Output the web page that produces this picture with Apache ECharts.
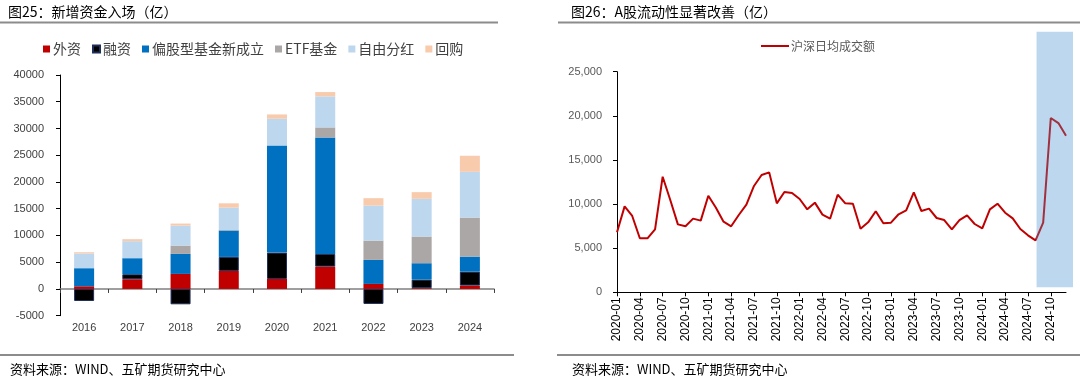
<!DOCTYPE html>
<html>
<head>
<meta charset="utf-8">
<script src="https://cdn.jsdelivr.net/npm/echarts@6/dist/echarts.min.js"></script>
<style>
html,body{margin:0;padding:0;background:#fff;}
#c{width:1080px;height:381px;}
</style>
</head>
<body>
<div id="c"></div>
<script>
// ---- Left chart data (亿) ----
const years = ['2016','2017','2018','2019','2020','2021','2022','2023','2024'];
const foreignCap = [500, 1810, 2810, 3370, 1870, 4180, 940, 150, 640];
const marginFin = [-2250, 940, -2870, 2620, 4930, 2370, -2800, 1600, 2600];
const newEquityFunds = [3380, 3000, 3740, 4930, 20030, 21780, 4490, 3060, 2810];
const etfFunds = [0, 0, 1560, 100, 0, 1870, 3620, 4990, 7300];
const dividends = [2750, 3180, 3740, 4180, 4990, 5800, 6550, 7050, 8550];
const buybacks = [240, 375, 375, 810, 810, 810, 1370, 1250, 3000];
const leftYTicks = [-5000, 40000, 5000]; // min, max, interval

// ---- Right chart data (亿) ----
const months = [
 '2020-01','2020-02','2020-03','2020-04','2020-05','2020-06','2020-07','2020-08','2020-09','2020-10','2020-11','2020-12',
 '2021-01','2021-02','2021-03','2021-04','2021-05','2021-06','2021-07','2021-08','2021-09','2021-10','2021-11','2021-12',
 '2022-01','2022-02','2022-03','2022-04','2022-05','2022-06','2022-07','2022-08','2022-09','2022-10','2022-11','2022-12',
 '2023-01','2023-02','2023-03','2023-04','2023-05','2023-06','2023-07','2023-08','2023-09','2023-10','2023-11','2023-12',
 '2024-01','2024-02','2024-03','2024-04','2024-05','2024-06','2024-07','2024-08','2024-09','2024-10','2024-11','2024-12'];
const turnover = [
 6800, 9740, 8650, 6120, 6120, 7140, 13100, 10460, 7700, 7480, 8350, 8120,
 10950, 9590, 8000, 7480, 8760, 9930, 12050, 13290, 13590, 10080, 11370, 11250,
 10570, 9400, 10160, 8800, 8340, 11060, 10080, 10040, 7210, 7930, 9180, 7820,
 7890, 8840, 9290, 11330, 9210, 9480, 8420, 8190, 7140, 8190, 8720, 7740,
 7250, 9400, 10040, 9020, 8380, 7170, 6460, 5890, 7890, 19750, 19180, 17750];
const rightYTicks = [0, 25000, 5000];
const highlightStart = '2024-08';
const highlightEnd = '2024-12';

const FONT = '"Liberation Sans", "Noto Sans CJK SC", sans-serif';
const CJK = '"Noto Sans CJK SC", "Liberation Sans", sans-serif';

const chart = echarts.init(document.getElementById('c'), null, {renderer: 'canvas'});

function barSeries(name, data, color, extra) {
  return Object.assign({
    name: name, type: 'bar', stack: 'total', data: data,
    xAxisIndex: 0, yAxisIndex: 0, barWidth: 20,
    itemStyle: {color: color}
  }, extra || {});
}

const option = {
  animation: false,
  backgroundColor: '#fff',
  textStyle: {fontFamily: FONT},
  title: [
    {text: '图25：新增资金入场（亿）', left: 3, top: 0,
     textStyle: {fontFamily: CJK, fontSize: 14, fontWeight: 'normal', color: '#000'}},
    {text: '图26：A股流动性显著改善（亿）', left: 566, top: 0,
     textStyle: {fontFamily: CJK, fontSize: 14, fontWeight: 'normal', color: '#000'}},
    {text: '资料来源：WIND、五矿期货研究中心', left: 5, top: 358,
     textStyle: {fontFamily: CJK, fontSize: 13, fontWeight: 'normal', color: '#000'}},
    {text: '资料来源：WIND、五矿期货研究中心', left: 567, top: 358,
     textStyle: {fontFamily: CJK, fontSize: 13, fontWeight: 'normal', color: '#000'}}
  ],
  legend: [
    {data: ['外资','融资','偏股型基金新成立','ETF基金','自由分红','回购'],
     left: 38, top: 37, itemWidth: 7, itemHeight: 7, itemGap: 11, icon: 'rect',
     textStyle: {fontFamily: CJK, fontSize: 14, color: '#404040', padding: [0,0,0,-2]}},
    {data: ['沪深日均成交额'], left: 756, top: 35, itemWidth: 28, itemHeight: 2, icon: 'rect',
     textStyle: {fontFamily: CJK, fontSize: 12, color: '#595959', padding: [0,0,0,-3]}}
  ],
  grid: [
    {left: 60, top: 75, width: 434, height: 240.7},
    {left: 617, top: 71.7, width: 449, height: 220.6}
  ],
  xAxis: [
    {type: 'category', gridIndex: 0, data: years,
     axisLine: {onZero: true, lineStyle: {color: '#808080', width: 1.5}},
     axisTick: {show: true, alignWithLabel: false, length: 4, lineStyle: {color: '#404040'}},
     axisLabel: {margin: 7, fontSize: 11, color: '#404040', fontFamily: FONT},
     splitLine: {show: false}},
    {type: 'category', gridIndex: 1, data: months, boundaryGap: false,
     axisLine: {lineStyle: {color: '#000', width: 1}},
     axisTick: {show: true, interval: 2, length: 4, lineStyle: {color: '#000'}},
     axisLabel: {interval: 2, rotate: 90, margin: 5, fontSize: 12, color: '#000', fontFamily: FONT},
     splitLine: {show: false}}
  ],
  yAxis: [
    {type: 'value', gridIndex: 0, min: leftYTicks[0], max: leftYTicks[1], interval: leftYTicks[2],
     axisLine: {show: true, lineStyle: {color: '#000'}},
     axisTick: {show: true, length: 4, lineStyle: {color: '#000'}},
     axisLabel: {margin: 16, fontSize: 11, color: '#404040', fontFamily: FONT,
       formatter: v => String(v)},
     splitLine: {show: false}},
    {type: 'value', gridIndex: 1, min: rightYTicks[0], max: rightYTicks[1], interval: rightYTicks[2],
     axisLine: {show: true, lineStyle: {color: '#000'}},
     axisTick: {show: true, length: 4, lineStyle: {color: '#000'}},
     axisLabel: {margin: 15, fontSize: 11, color: '#595959', fontFamily: FONT,
       formatter: v => v.toLocaleString('en-US')},
     splitLine: {show: false}}
  ],
  series: [
    barSeries('外资', foreignCap, '#C00000'),
    barSeries('融资', marginFin, '#000000', {itemStyle: {color: '#000', borderColor: '#1F2F5A', borderWidth: 1}}),
    barSeries('偏股型基金新成立', newEquityFunds, '#0070C0'),
    barSeries('ETF基金', etfFunds, '#ABA7A7'),
    barSeries('自由分红', dividends, '#BDD7EE'),
    barSeries('回购', buybacks, '#F8CBAD'),
    {name: '沪深日均成交额', type: 'line', xAxisIndex: 1, yAxisIndex: 1, data: turnover,
     showSymbol: false, symbol: 'none', z: 5,
     lineStyle: {color: '#C00000', width: 2}, itemStyle: {color: '#C00000'}}
  ]
};
chart.setOption(option);

// Decorations: header/footer rules and highlight box positioned from the axis scale
const x1 = chart.convertToPixel({xAxisIndex: 1}, highlightStart);
const x2 = chart.convertToPixel({xAxisIndex: 1}, highlightEnd);
const yTop = chart.convertToPixel({yAxisIndex: 1}, rightYTicks[1]);
const yZero = chart.convertToPixel({yAxisIndex: 1}, 0);
const split = x1 / 1080;
chart.setOption({
  series: [{}, {}, {}, {}, {}, {}, {
    lineStyle: {color: new echarts.graphic.LinearGradient(0, 0, 1080, 0, [
      {offset: 0, color: '#C00000'}, {offset: split, color: '#C00000'},
      {offset: split, color: '#A1303F'}, {offset: 1, color: '#A1303F'}], true)}
  }],
  graphic: [
    {type: 'rect', z: 0, silent: true,
     shape: {x: x1 + 1, y: yTop - 40, width: (x2 + 7) - (x1 + 1), height: (yZero - 5) - (yTop - 40)},
     style: {fill: '#BDD7EE'}},
    {type: 'line', z: 0, shape: {x1: 0, y1: 22.5, x2: 498, y2: 22.5}, style: {stroke: '#8C8C8C', lineWidth: 2}},
    {type: 'line', z: 0, shape: {x1: 558, y1: 22.5, x2: 1080, y2: 22.5}, style: {stroke: '#8C8C8C', lineWidth: 2}},
    {type: 'line', z: 0, shape: {x1: 0, y1: 355, x2: 514, y2: 355}, style: {stroke: '#8C8C8C', lineWidth: 2}},
    {type: 'line', z: 0, shape: {x1: 557, y1: 355, x2: 1080, y2: 355}, style: {stroke: '#8C8C8C', lineWidth: 2}}
  ]
});
</script>
</body>
</html>
